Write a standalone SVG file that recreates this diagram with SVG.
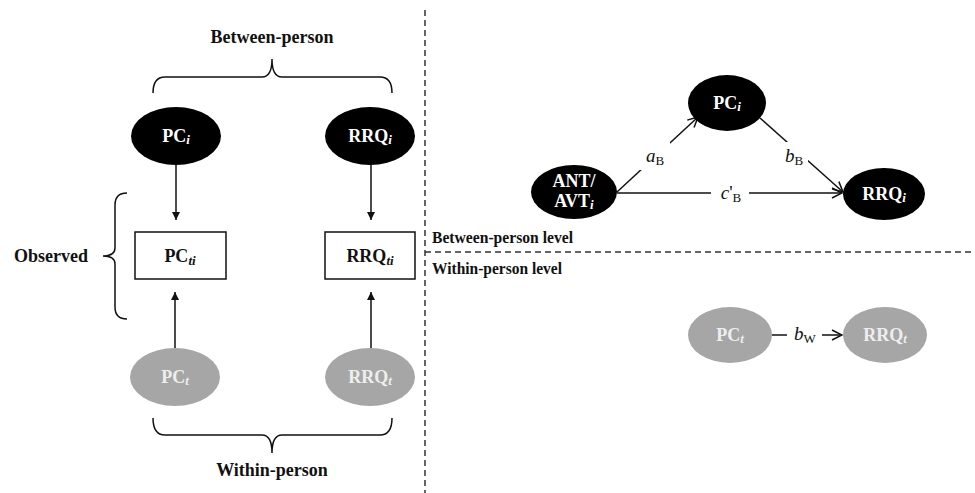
<svg xmlns="http://www.w3.org/2000/svg" width="975" height="493" viewBox="0 0 975 493">
<defs>
<style>
text{font-family:"Liberation Serif","Times New Roman",serif;}
.b{font-weight:bold;font-size:18px;fill:#111;}
.lv{font-weight:bold;font-size:17px;fill:#111;}
.nb{fill:#000;}
.ng{fill:#a6a6a6;}
.tw{font-weight:bold;font-size:18px;fill:#fff;text-anchor:middle;}
.tg{font-weight:bold;font-size:18px;fill:#eeeeee;text-anchor:middle;}
.tk{font-weight:bold;font-size:18px;fill:#111;text-anchor:middle;}
.sub{font-style:italic;font-size:13px;}
.lbl{font-size:19px;fill:#111;text-anchor:middle;}
.ln{stroke:#111;stroke-width:1.5;fill:none;}
.dash{stroke:#333;stroke-width:1.5;stroke-dasharray:6,4;fill:none;}
.brace{stroke:#111;stroke-width:1.5;fill:none;}
</style>
<marker id="af" viewBox="0 0 10 10" refX="10" refY="5" markerWidth="8" markerHeight="10" markerUnits="userSpaceOnUse" orient="auto"><path d="M0,0 L10,5 L0,10 z" fill="#111"/></marker>
<marker id="ao" viewBox="0 0 12 12" refX="11" refY="6" markerWidth="12" markerHeight="12" markerUnits="userSpaceOnUse" orient="auto"><path d="M1,1 L11,6 L1,11" fill="none" stroke="#111" stroke-width="1.5"/></marker>
</defs>
<rect width="975" height="493" fill="#fff"/>

<g id="dividers">
<line class="dash" x1="425" y1="10" x2="425" y2="493"/>
<line class="dash" x1="425" y1="252" x2="975" y2="252"/>
</g>

<g id="braces">
<path class="brace" d="M153,93 Q153,77 165,77 L262,77 Q272,77 272,59 Q272,77 282,77 L380,77 Q392,77 392,93"/>
<path class="brace" d="M153,418 Q153,435 165,435 L262,435 Q272,435 272,453 Q272,435 282,435 L380,435 Q392,435 392,418"/>
<path class="brace" d="M127,193 Q115,193 115,205 L115,248 Q115,256 103,256 Q115,256 115,264 L115,307 Q115,319 127,319"/>
</g>

<g id="labels">
<text class="b" x="272" y="43" text-anchor="middle">Between-person</text>
<text class="b" x="272" y="476" text-anchor="middle">Within-person</text>
<text class="b" x="14" y="262">Observed</text>
<text class="lv" x="432" y="243" textLength="141" lengthAdjust="spacingAndGlyphs">Between-person level</text>
<text class="lv" x="432" y="274" textLength="130" lengthAdjust="spacingAndGlyphs">Within-person level</text>
</g>

<g id="connectors">
<line class="ln" x1="176" y1="165" x2="176" y2="220" marker-end="url(#af)"/>
<line class="ln" x1="371" y1="165" x2="371" y2="220" marker-end="url(#af)"/>
<line class="ln" x1="175" y1="348" x2="175" y2="292" marker-end="url(#af)"/>
<line class="ln" x1="371" y1="348" x2="371" y2="292" marker-end="url(#af)"/>
<line class="ln" x1="617" y1="192" x2="698" y2="117" marker-end="url(#ao)"/>
<line class="ln" x1="760" y1="118" x2="843" y2="192" marker-end="url(#ao)"/>
<line class="ln" x1="617" y1="193" x2="842" y2="193" marker-end="url(#ao)"/>
<line class="ln" x1="772" y1="335" x2="842" y2="335" marker-end="url(#ao)"/>
<rect x="640" y="142" width="30" height="28" fill="#fff"/>
<rect x="780" y="142" width="28" height="26" fill="#fff"/>
<rect x="711" y="182" width="38" height="24" fill="#fff"/>
<rect x="787" y="322" width="35" height="24" fill="#fff"/>
<text class="lbl" x="655" y="162"><tspan font-style="italic">a</tspan><tspan font-size="13" dy="3">B</tspan></text>
<text class="lbl" x="794" y="162"><tspan font-style="italic">b</tspan><tspan font-size="13" dy="3">B</tspan></text>
<text class="lbl" x="731" y="199"><tspan font-style="italic">c</tspan>'<tspan font-size="13" dy="3">B</tspan></text>
<text class="lbl" x="805" y="340"><tspan font-style="italic">b</tspan><tspan font-size="13" dy="3">W</tspan></text>
</g>

<g id="PCi_left">
<ellipse class="nb" cx="176" cy="136" rx="45" ry="29"/>
<text class="tw" x="176" y="142">PC<tspan class="sub" dy="2">i</tspan></text>
</g>
<g id="RRQi_left">
<ellipse class="nb" cx="370" cy="136" rx="45" ry="29"/>
<text class="tw" x="370" y="142">RRQ<tspan class="sub" dy="2">i</tspan></text>
</g>
<g id="PCti">
<rect x="135" y="232" width="91" height="47" fill="#fff" stroke="#111" stroke-width="1.5"/>
<text class="tk" x="180" y="262">PC<tspan class="sub" dy="3">ti</tspan></text>
</g>
<g id="RRQti">
<rect x="325" y="232" width="90" height="47" fill="#fff" stroke="#111" stroke-width="1.5"/>
<text class="tk" x="370" y="262">RRQ<tspan class="sub" dy="3">ti</tspan></text>
</g>
<g id="PCt_left">
<ellipse class="ng" cx="175" cy="377" rx="45" ry="29"/>
<text class="tg" x="175" y="383">PC<tspan class="sub" dy="2">t</tspan></text>
</g>
<g id="RRQt_left">
<ellipse class="ng" cx="370" cy="377" rx="45" ry="29"/>
<text class="tg" x="370" y="383">RRQ<tspan class="sub" dy="2">t</tspan></text>
</g>

<g id="PCi_right">
<ellipse class="nb" cx="727" cy="103" rx="39" ry="28"/>
<text class="tw" x="727" y="109">PC<tspan class="sub" dy="2">i</tspan></text>
</g>
<g id="ANT_AVT">
<ellipse class="nb" cx="574" cy="192" rx="43" ry="27"/>
<text class="tw" x="574" y="187">ANT/</text>
<text class="tw" x="574" y="207">AVT<tspan class="sub" dy="2">i</tspan></text>
</g>
<g id="RRQi_right">
<ellipse class="nb" cx="884" cy="194" rx="41" ry="26"/>
<text class="tw" x="884" y="200">RRQ<tspan class="sub" dy="2">i</tspan></text>
</g>
<g id="PCt_right">
<ellipse class="ng" cx="730" cy="335" rx="42" ry="28"/>
<text class="tg" x="730" y="341">PC<tspan class="sub" dy="2">t</tspan></text>
</g>
<g id="RRQt_right">
<ellipse class="ng" cx="885" cy="335" rx="42" ry="28"/>
<text class="tg" x="885" y="341">RRQ<tspan class="sub" dy="2">t</tspan></text>
</g>
</svg>
